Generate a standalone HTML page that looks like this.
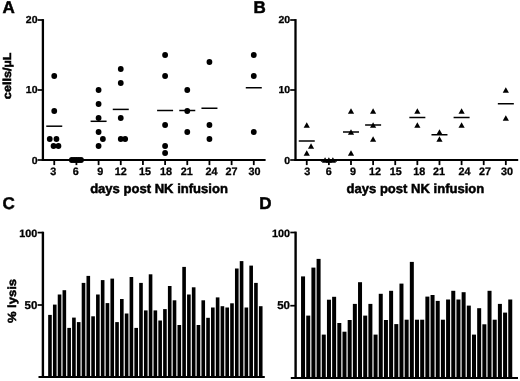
<!DOCTYPE html>
<html><head><meta charset="utf-8"><title>Figure</title>
<style>
html,body{margin:0;padding:0;background:#fff;}
svg{display:block;}
text{font-family:"Liberation Sans",sans-serif;font-weight:bold;fill:#000;stroke:#000;stroke-width:0.3px;text-rendering:geometricPrecision;}
.t{font-size:10.8px;}
.l{font-size:13.05px;stroke-width:0.5px;}
.t2{font-size:11.3px;}
.p{font-size:17px;stroke-width:0.5px;}
</style></head><body>
<svg width="520" height="381" viewBox="0 0 520 381">
<rect width="520" height="381" fill="#fff"/>
<defs><filter id="soft" x="0" y="0" width="520" height="381" filterUnits="userSpaceOnUse"><feGaussianBlur stdDeviation="0.42"/></filter></defs>
<g filter="url(#soft)">
<line x1="42.90" y1="19.10" x2="42.90" y2="160.95" stroke="#000" stroke-width="2.3"/>
<line x1="41.80" y1="160.00" x2="265.60" y2="160.00" stroke="#000" stroke-width="1.9"/>
<line x1="37.60" y1="160.00" x2="42.90" y2="160.00" stroke="#000" stroke-width="1.7"/>
<text transform="translate(37.50,163.80) scale(1.04,1)" class="t" text-anchor="end" style="font-size:10.1px">0</text>
<line x1="37.60" y1="90.00" x2="42.90" y2="90.00" stroke="#000" stroke-width="1.7"/>
<text transform="translate(37.50,93.20) scale(1.04,1)" class="t" text-anchor="end" style="font-size:10.1px">10</text>
<line x1="37.60" y1="20.00" x2="42.90" y2="20.00" stroke="#000" stroke-width="1.7"/>
<text transform="translate(37.50,23.20) scale(1.04,1)" class="t" text-anchor="end" style="font-size:10.1px">20</text>
<line x1="54.25" y1="160.00" x2="54.25" y2="165.10" stroke="#000" stroke-width="1.8"/>
<text transform="translate(53.15,175.40) scale(1.0,1)" class="t" text-anchor="middle">3</text>
<line x1="76.42" y1="160.00" x2="76.42" y2="165.10" stroke="#000" stroke-width="1.8"/>
<text transform="translate(75.72,175.40) scale(1.0,1)" class="t" text-anchor="middle">6</text>
<line x1="98.59" y1="160.00" x2="98.59" y2="165.10" stroke="#000" stroke-width="1.8"/>
<text transform="translate(100.29,175.40) scale(1.0,1)" class="t" text-anchor="middle">9</text>
<line x1="120.76" y1="160.00" x2="120.76" y2="165.10" stroke="#000" stroke-width="1.8"/>
<text transform="translate(120.76,175.40) scale(1.0,1)" class="t" text-anchor="middle">12</text>
<line x1="142.93" y1="160.00" x2="142.93" y2="165.10" stroke="#000" stroke-width="1.8"/>
<text transform="translate(144.93,175.40) scale(1.0,1)" class="t" text-anchor="middle">15</text>
<line x1="165.10" y1="160.00" x2="165.10" y2="165.10" stroke="#000" stroke-width="1.8"/>
<text transform="translate(165.90,175.40) scale(1.0,1)" class="t" text-anchor="middle">18</text>
<line x1="187.27" y1="160.00" x2="187.27" y2="165.10" stroke="#000" stroke-width="1.8"/>
<text transform="translate(186.87,175.40) scale(1.0,1)" class="t" text-anchor="middle">21</text>
<line x1="209.44" y1="160.00" x2="209.44" y2="165.10" stroke="#000" stroke-width="1.8"/>
<text transform="translate(211.44,175.40) scale(1.0,1)" class="t" text-anchor="middle">24</text>
<line x1="231.61" y1="160.00" x2="231.61" y2="165.10" stroke="#000" stroke-width="1.8"/>
<text transform="translate(231.51,175.40) scale(1.0,1)" class="t" text-anchor="middle">27</text>
<line x1="253.78" y1="160.00" x2="253.78" y2="165.10" stroke="#000" stroke-width="1.8"/>
<text transform="translate(254.38,175.40) scale(1.0,1)" class="t" text-anchor="middle">30</text>
<text transform="translate(159.00,192.50) scale(1.0,1)" class="l" text-anchor="middle">days post NK infusion</text>
<circle cx="54.25" cy="76.00" r="2.9" fill="#000"/>
<circle cx="54.25" cy="111.00" r="2.9" fill="#000"/>
<circle cx="49.75" cy="139.00" r="2.9" fill="#000"/>
<circle cx="56.45" cy="139.00" r="2.9" fill="#000"/>
<circle cx="53.55" cy="146.00" r="2.9" fill="#000"/>
<circle cx="58.45" cy="146.00" r="2.9" fill="#000"/>
<line x1="46.25" y1="126.20" x2="62.25" y2="126.20" stroke="#000" stroke-width="1.5"/>
<circle cx="71.82" cy="160.00" r="2.9" fill="#000"/>
<circle cx="74.12" cy="160.00" r="2.9" fill="#000"/>
<circle cx="76.42" cy="160.00" r="2.9" fill="#000"/>
<circle cx="78.72" cy="160.00" r="2.9" fill="#000"/>
<circle cx="81.02" cy="160.00" r="2.9" fill="#000"/>
<line x1="68.42" y1="160.00" x2="84.42" y2="160.00" stroke="#000" stroke-width="1.5"/>
<circle cx="98.59" cy="90.00" r="2.9" fill="#000"/>
<circle cx="98.59" cy="104.00" r="2.9" fill="#000"/>
<circle cx="98.59" cy="118.00" r="2.9" fill="#000"/>
<circle cx="98.59" cy="132.00" r="2.9" fill="#000"/>
<circle cx="102.89" cy="139.00" r="2.9" fill="#000"/>
<circle cx="98.59" cy="146.00" r="2.9" fill="#000"/>
<line x1="90.59" y1="121.30" x2="106.59" y2="121.30" stroke="#000" stroke-width="1.5"/>
<circle cx="120.76" cy="69.00" r="2.9" fill="#000"/>
<circle cx="120.76" cy="83.00" r="2.9" fill="#000"/>
<circle cx="120.76" cy="118.00" r="2.9" fill="#000"/>
<circle cx="120.76" cy="139.00" r="2.9" fill="#000"/>
<circle cx="125.16" cy="139.00" r="2.9" fill="#000"/>
<line x1="112.76" y1="109.40" x2="128.76" y2="109.40" stroke="#000" stroke-width="1.5"/>
<circle cx="165.10" cy="55.00" r="2.9" fill="#000"/>
<circle cx="165.10" cy="76.00" r="2.9" fill="#000"/>
<circle cx="165.10" cy="125.00" r="2.9" fill="#000"/>
<circle cx="165.10" cy="146.00" r="2.9" fill="#000"/>
<circle cx="165.10" cy="153.00" r="2.9" fill="#000"/>
<line x1="157.10" y1="110.50" x2="173.10" y2="110.50" stroke="#000" stroke-width="1.5"/>
<circle cx="187.27" cy="90.00" r="2.9" fill="#000"/>
<circle cx="187.27" cy="111.00" r="2.9" fill="#000"/>
<circle cx="187.27" cy="132.00" r="2.9" fill="#000"/>
<line x1="179.27" y1="110.50" x2="195.27" y2="110.50" stroke="#000" stroke-width="1.5"/>
<circle cx="209.44" cy="62.00" r="2.9" fill="#000"/>
<circle cx="209.44" cy="125.00" r="2.9" fill="#000"/>
<circle cx="209.44" cy="139.00" r="2.9" fill="#000"/>
<line x1="201.44" y1="108.25" x2="217.44" y2="108.25" stroke="#000" stroke-width="1.5"/>
<circle cx="253.78" cy="55.00" r="2.9" fill="#000"/>
<circle cx="253.78" cy="76.00" r="2.9" fill="#000"/>
<circle cx="253.78" cy="132.00" r="2.9" fill="#000"/>
<line x1="245.78" y1="87.75" x2="261.78" y2="87.75" stroke="#000" stroke-width="1.5"/>
<text transform="translate(8.60,13.40) scale(1.0,1)" class="p" text-anchor="middle">A</text>
<text class="l" text-anchor="middle" transform="translate(11.3,75.8) rotate(-90) scale(1.10,1)" style="font-size:11.5px">cells/µL</text>
<line x1="295.50" y1="19.10" x2="295.50" y2="160.95" stroke="#000" stroke-width="2.3"/>
<line x1="294.40" y1="160.00" x2="518.20" y2="160.00" stroke="#000" stroke-width="1.9"/>
<line x1="290.20" y1="160.00" x2="295.50" y2="160.00" stroke="#000" stroke-width="1.7"/>
<text transform="translate(290.10,163.80) scale(1.04,1)" class="t" text-anchor="end" style="font-size:10.1px">0</text>
<line x1="290.20" y1="90.00" x2="295.50" y2="90.00" stroke="#000" stroke-width="1.7"/>
<text transform="translate(290.10,93.20) scale(1.04,1)" class="t" text-anchor="end" style="font-size:10.1px">10</text>
<line x1="290.20" y1="20.00" x2="295.50" y2="20.00" stroke="#000" stroke-width="1.7"/>
<text transform="translate(290.10,23.20) scale(1.04,1)" class="t" text-anchor="end" style="font-size:10.1px">20</text>
<line x1="306.75" y1="160.00" x2="306.75" y2="165.10" stroke="#000" stroke-width="1.8"/>
<text transform="translate(307.15,175.40) scale(1.0,1)" class="t" text-anchor="middle">3</text>
<line x1="328.87" y1="160.00" x2="328.87" y2="165.10" stroke="#000" stroke-width="1.8"/>
<text transform="translate(328.67,175.40) scale(1.0,1)" class="t" text-anchor="middle">6</text>
<line x1="350.99" y1="160.00" x2="350.99" y2="165.10" stroke="#000" stroke-width="1.8"/>
<text transform="translate(353.09,175.40) scale(1.0,1)" class="t" text-anchor="middle">9</text>
<line x1="373.11" y1="160.00" x2="373.11" y2="165.10" stroke="#000" stroke-width="1.8"/>
<text transform="translate(375.01,175.40) scale(1.0,1)" class="t" text-anchor="middle">12</text>
<line x1="395.23" y1="160.00" x2="395.23" y2="165.10" stroke="#000" stroke-width="1.8"/>
<text transform="translate(395.63,175.40) scale(1.0,1)" class="t" text-anchor="middle">15</text>
<line x1="417.35" y1="160.00" x2="417.35" y2="165.10" stroke="#000" stroke-width="1.8"/>
<text transform="translate(419.25,175.40) scale(1.0,1)" class="t" text-anchor="middle">18</text>
<line x1="439.47" y1="160.00" x2="439.47" y2="165.10" stroke="#000" stroke-width="1.8"/>
<text transform="translate(439.07,175.40) scale(1.0,1)" class="t" text-anchor="middle">21</text>
<line x1="461.59" y1="160.00" x2="461.59" y2="165.10" stroke="#000" stroke-width="1.8"/>
<text transform="translate(464.39,175.40) scale(1.0,1)" class="t" text-anchor="middle">24</text>
<line x1="483.71" y1="160.00" x2="483.71" y2="165.10" stroke="#000" stroke-width="1.8"/>
<text transform="translate(485.11,175.40) scale(1.0,1)" class="t" text-anchor="middle">27</text>
<line x1="505.83" y1="160.00" x2="505.83" y2="165.10" stroke="#000" stroke-width="1.8"/>
<text transform="translate(506.93,175.40) scale(1.0,1)" class="t" text-anchor="middle">30</text>
<text transform="translate(415.40,193.20) scale(1.0,1)" class="l" text-anchor="middle">days post NK infusion</text>
<polygon points="306.75,122.20 309.85,127.80 303.65,127.80" fill="#000"/>
<polygon points="311.05,143.20 314.15,148.80 307.95,148.80" fill="#000"/>
<polygon points="306.75,150.20 309.85,155.80 303.65,155.80" fill="#000"/>
<line x1="298.75" y1="141.00" x2="314.75" y2="141.00" stroke="#000" stroke-width="1.5"/>
<polygon points="325.07,157.20 328.17,162.80 321.97,162.80" fill="#000"/>
<polygon points="328.87,157.20 331.97,162.80 325.77,162.80" fill="#000"/>
<polygon points="332.87,157.20 335.97,162.80 329.77,162.80" fill="#000"/>
<line x1="320.87" y1="161.00" x2="336.87" y2="161.00" stroke="#000" stroke-width="1.5"/>
<polygon points="350.99,108.20 354.09,113.80 347.89,113.80" fill="#000"/>
<polygon points="350.99,129.20 354.09,134.80 347.89,134.80" fill="#000"/>
<polygon points="350.99,150.20 354.09,155.80 347.89,155.80" fill="#000"/>
<line x1="342.99" y1="132.00" x2="358.99" y2="132.00" stroke="#000" stroke-width="1.5"/>
<polygon points="373.11,108.20 376.21,113.80 370.01,113.80" fill="#000"/>
<polygon points="373.11,122.20 376.21,127.80 370.01,127.80" fill="#000"/>
<polygon points="373.11,136.20 376.21,141.80 370.01,141.80" fill="#000"/>
<line x1="365.11" y1="125.00" x2="381.11" y2="125.00" stroke="#000" stroke-width="1.5"/>
<polygon points="417.35,108.20 420.45,113.80 414.25,113.80" fill="#000"/>
<polygon points="417.35,122.20 420.45,127.80 414.25,127.80" fill="#000"/>
<line x1="409.35" y1="117.50" x2="425.35" y2="117.50" stroke="#000" stroke-width="1.5"/>
<polygon points="439.47,129.20 442.57,134.80 436.37,134.80" fill="#000"/>
<polygon points="439.47,136.20 442.57,141.80 436.37,141.80" fill="#000"/>
<line x1="431.47" y1="134.75" x2="447.47" y2="134.75" stroke="#000" stroke-width="1.5"/>
<polygon points="461.59,108.20 464.69,113.80 458.49,113.80" fill="#000"/>
<polygon points="461.59,122.20 464.69,127.80 458.49,127.80" fill="#000"/>
<line x1="453.59" y1="117.50" x2="469.59" y2="117.50" stroke="#000" stroke-width="1.5"/>
<polygon points="505.83,87.20 508.93,92.80 502.73,92.80" fill="#000"/>
<polygon points="505.83,115.20 508.93,120.80 502.73,120.80" fill="#000"/>
<line x1="497.83" y1="103.75" x2="513.83" y2="103.75" stroke="#000" stroke-width="1.5"/>
<text transform="translate(259.60,13.40) scale(1.0,1)" class="p" text-anchor="middle">B</text>
<line x1="42.90" y1="231.70" x2="42.90" y2="378.00" stroke="#000" stroke-width="2.4"/>
<line x1="38.50" y1="377.00" x2="264.80" y2="377.00" stroke="#000" stroke-width="2.0"/>
<line x1="37.60" y1="305.00" x2="42.90" y2="305.00" stroke="#000" stroke-width="1.7"/>
<text transform="translate(37.30,308.60) scale(1.02,1)" class="t2" text-anchor="end">50</text>
<line x1="37.60" y1="232.60" x2="42.90" y2="232.60" stroke="#000" stroke-width="1.7"/>
<text transform="translate(37.30,236.80) scale(1.02,1)" class="t2" text-anchor="end" style="font-size:10.6px">100</text>
<rect x="48.16" y="314.90" width="3.62" height="62.10" fill="#000"/>
<rect x="52.95" y="304.60" width="3.62" height="72.40" fill="#000"/>
<rect x="57.74" y="294.50" width="3.62" height="82.50" fill="#000"/>
<rect x="62.53" y="290.20" width="3.62" height="86.80" fill="#000"/>
<rect x="67.32" y="327.90" width="3.62" height="49.10" fill="#000"/>
<rect x="72.11" y="317.60" width="3.62" height="59.40" fill="#000"/>
<rect x="76.90" y="322.10" width="3.62" height="54.90" fill="#000"/>
<rect x="81.69" y="282.90" width="3.62" height="94.10" fill="#000"/>
<rect x="86.48" y="275.90" width="3.62" height="101.10" fill="#000"/>
<rect x="91.27" y="316.30" width="3.62" height="60.70" fill="#000"/>
<rect x="96.06" y="294.50" width="3.62" height="82.50" fill="#000"/>
<rect x="100.85" y="280.10" width="3.62" height="96.90" fill="#000"/>
<rect x="105.64" y="303.10" width="3.62" height="73.90" fill="#000"/>
<rect x="110.43" y="278.60" width="3.62" height="98.40" fill="#000"/>
<rect x="115.22" y="322.10" width="3.62" height="54.90" fill="#000"/>
<rect x="120.01" y="299.00" width="3.62" height="78.00" fill="#000"/>
<rect x="124.80" y="313.50" width="3.62" height="63.50" fill="#000"/>
<rect x="129.59" y="277.00" width="3.62" height="100.00" fill="#000"/>
<rect x="134.38" y="327.90" width="3.62" height="49.10" fill="#000"/>
<rect x="139.17" y="282.90" width="3.62" height="94.10" fill="#000"/>
<rect x="143.96" y="310.40" width="3.62" height="66.60" fill="#000"/>
<rect x="148.75" y="274.30" width="3.62" height="102.70" fill="#000"/>
<rect x="153.54" y="310.40" width="3.62" height="66.60" fill="#000"/>
<rect x="158.33" y="320.50" width="3.62" height="56.50" fill="#000"/>
<rect x="163.12" y="309.10" width="3.62" height="67.90" fill="#000"/>
<rect x="167.91" y="286.00" width="3.62" height="91.00" fill="#000"/>
<rect x="172.70" y="300.30" width="3.62" height="76.70" fill="#000"/>
<rect x="177.49" y="325.00" width="3.62" height="52.00" fill="#000"/>
<rect x="182.28" y="266.90" width="3.62" height="110.10" fill="#000"/>
<rect x="187.07" y="294.50" width="3.62" height="82.50" fill="#000"/>
<rect x="191.86" y="287.30" width="3.62" height="89.70" fill="#000"/>
<rect x="196.65" y="325.00" width="3.62" height="52.00" fill="#000"/>
<rect x="201.44" y="300.30" width="3.62" height="76.70" fill="#000"/>
<rect x="206.23" y="317.80" width="3.62" height="59.20" fill="#000"/>
<rect x="211.02" y="307.50" width="3.62" height="69.50" fill="#000"/>
<rect x="215.81" y="297.40" width="3.62" height="79.60" fill="#000"/>
<rect x="220.60" y="306.20" width="3.62" height="70.80" fill="#000"/>
<rect x="225.39" y="307.50" width="3.62" height="69.50" fill="#000"/>
<rect x="230.18" y="303.30" width="3.62" height="73.70" fill="#000"/>
<rect x="234.97" y="268.50" width="3.62" height="108.50" fill="#000"/>
<rect x="239.76" y="261.10" width="3.62" height="115.90" fill="#000"/>
<rect x="244.55" y="307.50" width="3.62" height="69.50" fill="#000"/>
<rect x="249.34" y="265.60" width="3.62" height="111.40" fill="#000"/>
<rect x="254.13" y="282.90" width="3.62" height="94.10" fill="#000"/>
<rect x="258.92" y="306.20" width="3.62" height="70.80" fill="#000"/>
<text transform="translate(8.60,209.20) scale(1.0,1)" class="p" text-anchor="middle">C</text>
<text class="l" text-anchor="middle" transform="translate(16.3,301.0) rotate(-90) scale(1.11,1)" style="font-size:11.75px">% lysis</text>
<line x1="295.60" y1="231.60" x2="295.60" y2="379.00" stroke="#000" stroke-width="2.4"/>
<line x1="290.80" y1="378.00" x2="518.00" y2="378.00" stroke="#000" stroke-width="2.0"/>
<line x1="290.30" y1="305.70" x2="295.60" y2="305.70" stroke="#000" stroke-width="1.7"/>
<text transform="translate(290.00,309.30) scale(1.02,1)" class="t2" text-anchor="end">50</text>
<line x1="290.30" y1="232.50" x2="295.60" y2="232.50" stroke="#000" stroke-width="1.7"/>
<text transform="translate(290.00,236.70) scale(1.02,1)" class="t2" text-anchor="end" style="font-size:10.6px">100</text>
<rect x="301.05" y="276.40" width="4.0" height="101.60" fill="#000"/>
<rect x="306.23" y="315.60" width="4.0" height="62.40" fill="#000"/>
<rect x="311.41" y="267.60" width="4.0" height="110.40" fill="#000"/>
<rect x="316.59" y="258.90" width="4.0" height="119.10" fill="#000"/>
<rect x="321.77" y="334.60" width="4.0" height="43.40" fill="#000"/>
<rect x="326.95" y="299.70" width="4.0" height="78.30" fill="#000"/>
<rect x="332.13" y="296.80" width="4.0" height="81.20" fill="#000"/>
<rect x="337.31" y="323.00" width="4.0" height="55.00" fill="#000"/>
<rect x="342.49" y="331.70" width="4.0" height="46.30" fill="#000"/>
<rect x="347.67" y="320.00" width="4.0" height="58.00" fill="#000"/>
<rect x="352.85" y="303.90" width="4.0" height="74.10" fill="#000"/>
<rect x="358.03" y="282.20" width="4.0" height="95.80" fill="#000"/>
<rect x="363.21" y="315.60" width="4.0" height="62.40" fill="#000"/>
<rect x="368.39" y="303.90" width="4.0" height="74.10" fill="#000"/>
<rect x="373.57" y="334.60" width="4.0" height="43.40" fill="#000"/>
<rect x="378.75" y="293.80" width="4.0" height="84.20" fill="#000"/>
<rect x="383.93" y="320.00" width="4.0" height="58.00" fill="#000"/>
<rect x="389.11" y="290.80" width="4.0" height="87.20" fill="#000"/>
<rect x="394.29" y="324.10" width="4.0" height="53.90" fill="#000"/>
<rect x="399.47" y="283.60" width="4.0" height="94.40" fill="#000"/>
<rect x="404.65" y="319.70" width="4.0" height="58.30" fill="#000"/>
<rect x="409.83" y="261.90" width="4.0" height="116.10" fill="#000"/>
<rect x="415.01" y="319.70" width="4.0" height="58.30" fill="#000"/>
<rect x="420.19" y="319.70" width="4.0" height="58.30" fill="#000"/>
<rect x="425.37" y="296.60" width="4.0" height="81.40" fill="#000"/>
<rect x="430.55" y="295.00" width="4.0" height="83.00" fill="#000"/>
<rect x="435.73" y="300.90" width="4.0" height="77.10" fill="#000"/>
<rect x="440.91" y="319.70" width="4.0" height="58.30" fill="#000"/>
<rect x="446.09" y="299.50" width="4.0" height="78.50" fill="#000"/>
<rect x="451.27" y="290.80" width="4.0" height="87.20" fill="#000"/>
<rect x="456.45" y="299.50" width="4.0" height="78.50" fill="#000"/>
<rect x="461.63" y="292.20" width="4.0" height="85.80" fill="#000"/>
<rect x="466.81" y="305.60" width="4.0" height="72.40" fill="#000"/>
<rect x="471.99" y="334.60" width="4.0" height="43.40" fill="#000"/>
<rect x="477.17" y="308.20" width="4.0" height="69.80" fill="#000"/>
<rect x="482.35" y="324.30" width="4.0" height="53.70" fill="#000"/>
<rect x="487.53" y="290.80" width="4.0" height="87.20" fill="#000"/>
<rect x="492.71" y="319.70" width="4.0" height="58.30" fill="#000"/>
<rect x="497.89" y="303.90" width="4.0" height="74.10" fill="#000"/>
<rect x="503.07" y="312.60" width="4.0" height="65.40" fill="#000"/>
<rect x="508.25" y="299.50" width="4.0" height="78.50" fill="#000"/>
<text transform="translate(265.50,209.30) scale(1.0,1)" class="p" text-anchor="middle">D</text>
</g></svg></body></html>
